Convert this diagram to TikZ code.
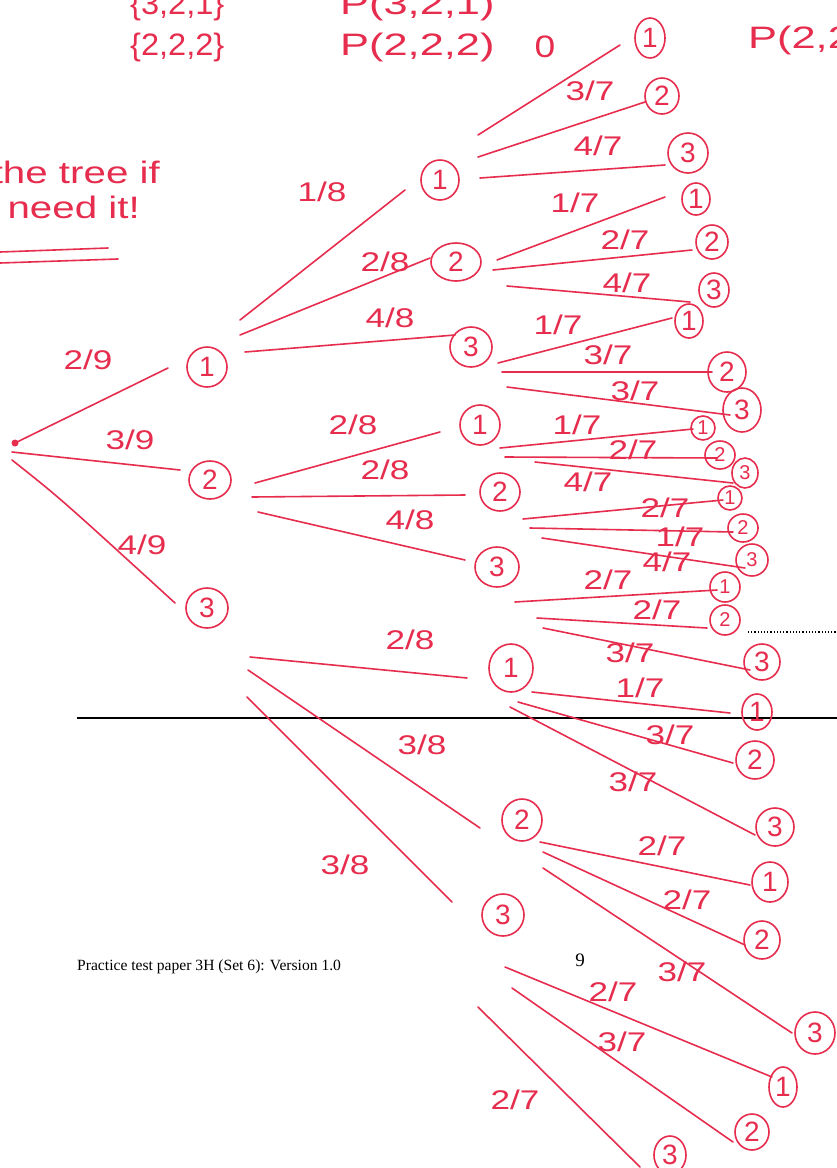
\documentclass[tikz,border=0pt]{standalone}
\usepackage{fontspec}
\usepackage{graphicx}
\setmainfont{Liberation Serif}
\newfontfamily\handfont{Liberation Sans}
\usetikzlibrary{shapes.geometric}
\definecolor{pen}{RGB}{230,45,78}
\newcommand{\myfr}[1]{\scalebox{1.3}[1]{#1}}
\begin{document}
\begin{tikzpicture}[x=1pt,y=-1pt,
 hand/.style={draw=pen, line width=1.6pt, line cap=round},
 ball/.style={ellipse, draw=pen, line width=1.6pt, text=pen, inner sep=0pt, font=\handfont\fontsize{28}{28}\selectfont},
 smallball/.style={ball, font=\handfont\fontsize{20}{20}\selectfont},
 sz/.style 2 args={minimum width=#1pt, minimum height=#2pt},
 frac/.style={text=pen, inner sep=0pt, font=\handfont\fontsize{27}{27}\selectfont},
 note/.style={text=pen, inner sep=0pt, font=\handfont\fontsize{31}{31}\selectfont},
]
\fill[white] (0,0) rectangle (837,1168);
\useasboundingbox (0,0) rectangle (837,1168);

% top notes
\node[note, anchor=west] (t1) at (130,6) {\scalebox{1.05}[1]{\{3,2,1\}}};
\node[note, anchor=west] (t2) at (340,6) {\scalebox{1.4}[1]{P(3,2,1)}};
\node[note, anchor=west] (t3) at (130,47) {\scalebox{1.05}[1]{\{2,2,2\}}};
\node[note, anchor=west] (t4) at (340,47) {\scalebox{1.4}[1]{P(2,2,2)}};
\node[note] (t5) at (545,47) {\scalebox{1.2}[1]{0}};
\node[note, anchor=west] (t6) at (748,40) {\scalebox{1.4}[1]{P(2,2}};

% left notes
\node[note, anchor=east] (n1) at (160,172) {\scalebox{1.3}[1]{the tree if}};
\node[note, anchor=east] (n2) at (140,210) {\scalebox{1.3}[1]{you need it!}};
\coordinate (u1a) at (0,252); \coordinate (u1b) at (108,248);
\coordinate (u2a) at (0,263); \coordinate (u2b) at (118,259);
\draw[hand] (u1a) -- (u1b);
\draw[hand] (u2a) -- (u2b);

% page rules and footer
\coordinate (h1) at (77,718); \coordinate (h2) at (837,718);
\draw[line width=1.3pt] (h1) -- (h2);
\coordinate (d1) at (748,632); \coordinate (d2) at (837,632);
\draw[dotted, line width=1.2pt] (d1) -- (d2);
\node[anchor=base west, inner sep=0pt, font=\fontsize{15.6}{15}\selectfont] (foot) at (77,970) {Practice test paper 3H (Set 6): Version 1.0};
\node[anchor=base, inner sep=0pt, font=\fontsize{19}{19}\selectfont] (pg) at (580,966) {9};

% nodes
\node[circle, fill=pen, inner sep=0pt, minimum size=7pt] (R) at (15,443) {};
\node[ball, sz={40}{40}] (A1) at (207,367) {1};
\node[ball, sz={42}{38}] (A2) at (210,480) {2};
\node[ball, sz={42}{40}] (A3) at (207,608) {3};

\node[ball, sz={38}{40}] (B11) at (440,180) {1};
\node[ball, sz={50}{38}] (B12) at (456,262) {2};
\node[ball, sz={42}{40}] (B13) at (471,347) {3};
\node[ball, sz={40}{40}] (B21) at (480,425) {1};
\node[ball, sz={40}{38}] (B22) at (500,492) {2};
\node[ball, sz={44}{40}] (B23) at (497,567) {3};
\node[ball, sz={44}{48}] (B31) at (511,668) {1};
\node[ball, sz={40}{42}] (B32) at (522,820) {2};
\node[ball, sz={42}{42}] (B33) at (503,915) {3};

\node[ball, sz={30}{40}] (L111) at (650,38) {1};
\node[ball, sz={34}{36}] (L112) at (662,96) {2};
\node[ball, sz={40}{40}] (L113) at (688,153) {3};
\node[ball, sz={28}{32}] (L121) at (696,199) {1};
\node[ball, sz={32}{34}] (L122) at (712,242) {2};
\node[ball, sz={30}{34}] (L123) at (714,290) {3};
\node[ball, sz={28}{34}] (L131) at (689,321) {1};
\node[ball, sz={38}{40}] (L132) at (727,372) {2};
\node[ball, sz={38}{44}] (L133) at (742,410) {3};
\node[smallball, sz={24}{24}] (L211) at (703,428) {1};
\node[smallball, sz={30}{28}] (L212) at (720,455) {2};
\node[smallball, sz={26}{30}] (L213) at (745,473) {3};
\node[smallball, sz={24}{24}] (L221) at (730,498) {1};
\node[smallball, sz={30}{28}] (L222) at (743,528) {2};
\node[smallball, sz={32}{32}] (L223) at (752,560) {3};
\node[smallball, sz={30}{30}] (L231) at (725,587) {1};
\node[smallball, sz={30}{30}] (L232) at (725,620) {2};
\node[ball, sz={36}{36}] (L233) at (762,662) {3};
\node[ball, sz={30}{36}] (L311) at (757,712) {1};
\node[ball, sz={38}{38}] (L312) at (755,760) {2};
\node[ball, sz={38}{38}] (L313) at (775,827) {3};
\node[ball, sz={36}{40}] (L321) at (770,882) {1};
\node[ball, sz={36}{38}] (L322) at (762,940) {2};
\node[ball, sz={40}{42}] (L323) at (815,1033) {3};
\node[ball, sz={28}{40}] (L331) at (783,1087) {1};
\node[ball, sz={34}{36}] (L332) at (752,1132) {2};
\node[ball, sz={32}{38}] (L333) at (670,1155) {3};

% first level edges
\draw[hand] (R.center) -- ([shift={(-39,1)}]A1.center);
\draw[hand] ([shift={(-3,9)}]R.center) -- ([shift={(-30,-10)}]A2.center);
\draw[hand] ([shift={(-3,17)}]R.center) .. controls ([shift={(45,55)}]R.center) .. ([shift={(-32,-5)}]A3.center);
\node[frac] (f1) at (88,360) {\myfr{2/9}};
\node[frac] (f2) at (130,440) {\myfr{3/9}};
\node[frac] (f3) at (142,545) {\myfr{4/9}};

% second level edges
\draw[hand] ([shift={(33,-47)}]A1.center) -- ([shift={(-35,10)}]B11.center);
\draw[hand] ([shift={(33,-32)}]A1.center) -- ([shift={(-26,-4)}]B12.center);
\draw[hand] ([shift={(38,-15)}]A1.center) -- ([shift={(-16,-12)}]B13.center);
\node[frac] (g1) at (322,192) {\myfr{1/8}};
\node[frac] (g2) at (385,262) {\myfr{2/8}};
\node[frac] (g3) at (390,318) {\myfr{4/8}};

\draw[hand] ([shift={(45,3)}]A2.center) -- ([shift={(-40,7)}]B21.center);
\draw[hand] ([shift={(42,17)}]A2.center) -- ([shift={(-35,3)}]B22.center);
\draw[hand] ([shift={(48,32)}]A2.center) -- ([shift={(-32,-7)}]B23.center);
\node[frac] (g4) at (353,425) {\myfr{2/8}};
\node[frac] (g5) at (385,470) {\myfr{2/8}};
\node[frac] (g6) at (410,520) {\myfr{4/8}};

\draw[hand] ([shift={(43,49)}]A3.center) -- ([shift={(-44,10)}]B31.center);
\draw[hand] ([shift={(41,62)}]A3.center) -- ([shift={(-42,8)}]B32.center);
\draw[hand] ([shift={(40,89)}]A3.center) -- ([shift={(-51,-13)}]B33.center);
\node[frac] (g7) at (410,640) {\myfr{2/8}};
\node[frac] (g8) at (422,745) {\myfr{3/8}};
\node[frac] (g9) at (345,865) {\myfr{3/8}};

% third level edges
\draw[hand] ([shift={(38,-45)}]B11.center) -- ([shift={(-30,7)}]L111.center);
\draw[hand] ([shift={(38,-23)}]B11.center) -- ([shift={(-17,6)}]L112.center);
\draw[hand] ([shift={(40,-2)}]B11.center) -- ([shift={(-23,12)}]L113.center);
\node[frac] (h11) at (590,91) {\myfr{3/7}};
\node[frac] (h12) at (598,146) {\myfr{4/7}};

\draw[hand] ([shift={(41,-2)}]B12.center) -- ([shift={(-31,-2)}]L121.center);
\draw[hand] ([shift={(37,8)}]B12.center) -- ([shift={(-20,8)}]L122.center);
\draw[hand] ([shift={(51,24)}]B12.center) -- ([shift={(-24,12)}]L123.center);
\node[frac] (h21) at (575,203) {\myfr{1/7}};
\node[frac] (h22) at (625,240) {\myfr{2/7}};
\node[frac] (h23) at (627,283) {\myfr{4/7}};

\draw[hand] ([shift={(27,16)}]B13.center) -- ([shift={(-17,-3)}]L131.center);
\draw[hand] ([shift={(31,25)}]B13.center) -- ([shift={(-15,0)}]L132.center);
\draw[hand] ([shift={(36,40)}]B13.center) -- ([shift={(-12,5)}]L133.center);
\node[frac] (h31) at (558,325) {\myfr{1/7}};
\node[frac] (h32) at (608,355) {\myfr{3/7}};
\node[frac] (h33) at (635,391) {\myfr{3/7}};

\draw[hand] ([shift={(20,23)}]B21.center) -- ([shift={(-10,1)}]L211.center);
\draw[hand] ([shift={(25,32)}]B21.center) -- ([shift={(-3,3)}]L212.center);
\draw[hand] ([shift={(55,37)}]B21.center) -- ([shift={(-12,10)}]L213.center);
\node[frac] (h41) at (577,425) {\myfr{1/7}};
\node[frac] (h42) at (633,450) {\myfr{2/7}};
\node[frac] (h43) at (588,482) {\myfr{4/7}};

\draw[hand] ([shift={(23,27)}]B22.center) -- ([shift={(-7,2)}]L221.center);
\draw[hand] ([shift={(30,36)}]B22.center) -- ([shift={(-10,4)}]L222.center);
\draw[hand] ([shift={(42,46)}]B22.center) -- ([shift={(-7,8)}]L223.center);
\node[frac] (h51) at (665,508) {\myfr{2/7}};
\node[frac] (h52) at (680,537) {\myfr{1/7}};
\node[frac] (h53) at (667,562) {\myfr{4/7}};

\draw[hand] ([shift={(18,35)}]B23.center) -- ([shift={(-8,3)}]L231.center);
\draw[hand] ([shift={(40,51)}]B23.center) -- ([shift={(-18,8)}]L232.center);
\draw[hand] ([shift={(46,61)}]B23.center) -- ([shift={(-12,8)}]L233.center);
\node[frac] (h61) at (608,580) {\myfr{2/7}};
\node[frac] (h62) at (657,610) {\myfr{2/7}};
\node[frac] (h63) at (630,653) {\myfr{3/7}};

\draw[hand] ([shift={(21,24)}]B31.center) -- ([shift={(-27,1)}]L311.center);
\draw[hand] ([shift={(7,34)}]B31.center) -- ([shift={(-22,3)}]L312.center);
\draw[hand] ([shift={(-1,39)}]B31.center) -- ([shift={(-20,8)}]L313.center);
\node[frac] (h71) at (640,688) {\myfr{1/7}};
\node[frac] (h72) at (670,735) {\myfr{3/7}};
\node[frac] (h73) at (633,782) {\myfr{3/7}};

\draw[hand] ([shift={(18,22)}]B32.center) -- ([shift={(-20,3)}]L321.center);
\draw[hand] ([shift={(21,32)}]B32.center) -- ([shift={(-17,5)}]L322.center);
\draw[hand] ([shift={(21,48)}]B32.center) -- ([shift={(-23,0)}]L323.center);
\node[frac] (h81) at (662,846) {\myfr{2/7}};
\node[frac] (h82) at (687,900) {\myfr{2/7}};
\node[frac] (h83) at (682,972) {\myfr{3/7}};

\draw[hand] ([shift={(2,52)}]B33.center) -- ([shift={(-11,-10)}]L331.center);
\draw[hand] ([shift={(9,73)}]B33.center) -- ([shift={(-19,10)}]L332.center);
\draw[hand] ([shift={(-25,92)}]B33.center) -- ([shift={(-30,12)}]L333.center);
\node[frac] (h91) at (613,992) {\myfr{2/7}};
\node[frac] (h92) at (622,1042) {\myfr{3/7}};
\node[frac] (h93) at (515,1100) {\myfr{2/7}};
\end{tikzpicture}
\end{document}
